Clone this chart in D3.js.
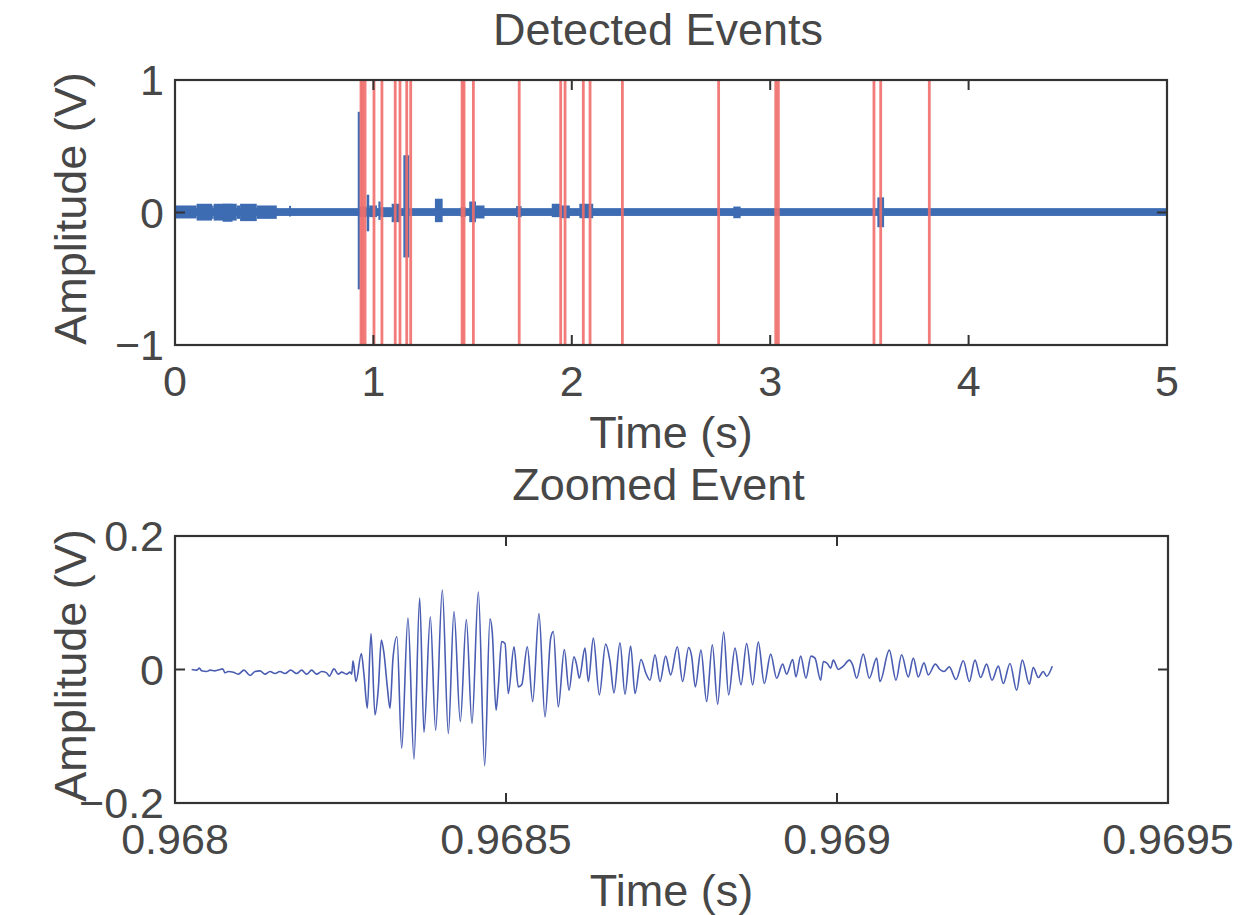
<!DOCTYPE html>
<html>
<head>
<meta charset="utf-8">
<script src="https://cdn.jsdelivr.net/npm/d3@7"></script>
<style>
  body { margin: 0; background: #fff; }
  text { font-family: "Liberation Sans", Arial, Helvetica, sans-serif; fill: #474747; }
</style>
</head>
<body>
<div id="container"></div>
<script>
let w = 1245;
let h = 915;

// ---- top plot data: whole recording, drawn as an amplitude envelope ----
let topXTicks = [0, 1, 2, 3, 4, 5];
let topYTicks = [-1, 0, 1];
let baseBand = [-0.026, 0.033];   // quiet background band (V)

// burst segments: start (s), end (s), max (V), min (V)
let burstStart = [0.000, 0.109, 0.187, 0.195, 0.240, 0.311, 0.328, 0.412, 0.575, 0.921, 0.932, 0.966, 0.979, 1.025, 1.037, 1.092, 1.151, 1.310, 1.440, 1.483, 1.517, 1.719, 1.899, 1.941, 2.038, 2.814, 3.540];
let burstEnd   = [0.109, 0.187, 0.195, 0.311, 0.290, 0.328, 0.412, 0.513, 0.585, 0.932, 0.966, 0.979, 1.018, 1.037, 1.092, 1.134, 1.181, 1.349, 1.465, 1.517, 1.560, 1.747, 1.941, 1.990, 2.108, 2.851, 3.574];
let burstMax   = [0.053, 0.066, 0.053, 0.066, 0.066, 0.053, 0.066, 0.053, 0.050, 0.760, 0.045, 0.134, 0.053, 0.083, 0.040, 0.066, 0.432, 0.104, 0.040, 0.083, 0.053, 0.048, 0.066, 0.053, 0.066, 0.045, 0.114];
let burstMin   = [-0.045, -0.061, -0.048, -0.061, -0.070, -0.048, -0.065, -0.048, -0.030, -0.580, -0.035, -0.142, -0.035, -0.056, -0.035, -0.073, -0.339, -0.073, -0.035, -0.073, -0.045, -0.035, -0.035, -0.043, -0.043, -0.043, -0.111];

// detected event times (s)
let eventTimes = [0.9375, 0.946, 0.958, 1.003, 1.043, 1.110, 1.134, 1.168, 1.188, 1.447, 1.457, 1.504, 1.735, 1.944, 1.966, 2.058, 2.092, 2.255, 2.740, 3.028, 3.041, 3.523, 3.557, 3.802];

// ---- bottom plot data: zoomed event ----
let zoomStart = 0.968;            // s
let zoomXTicks = [0.968, 0.9685, 0.969, 0.9695];
let zoomYTicks = [-0.2, 0, 0.2];
// sample times as microseconds after zoomStart, and amplitude (V)
let zoomOffsetUs = [25.2, 32.7, 36.8, 40.3, 47.8, 52.9, 60.4, 68.0, 72.0, 75.5, 80.6, 88.1, 95.7, 104.2, 113.3, 120.8, 128.4, 135.9, 143.5, 151.1, 158.6, 166.2, 174.7, 183.8, 191.3, 198.9, 206.4, 214.0, 221.5, 229.1, 233.1, 240.2, 246.7, 251.8, 259.3, 264.3, 266.9,
  268.9, 273.4, 281.5, 285.5, 290.5, 296.1, 302.1, 307.1, 311.7, 315.7, 320.7, 324.8, 329.3, 335.3, 342.4, 351.9, 361.0, 369.6, 376.1, 385.7, 393.7, 403.8, 412.9, 421.4, 431.0, 440.1, 448.6, 458.2, 467.8, 475.8, 479.4, 484.9, 488.4, 493.4, 498.5, 503.5, 512.1, 518.6, 523.7, 532.2, 540.3, 549.8, 558.9, 567.5, 571.5, 579.0, 588.1, 595.2, 602.7, 606.7, 610.7, 619.3, 624.4, 631.9, 641.0, 650.5, 657.1, 663.1, 672.2, 679.7, 688.3, 694.9, 703.9, 711.5, 717.5, 725.1, 732.6, 741.2,
  748.7, 758.8, 766.8, 775.9, 780.4, 786.0, 794.5, 803.1, 811.7, 819.7, 828.8, 836.3, 845.9, 855.0, 863.5, 872.6, 881.1, 890.2, 899.8, 908.8, 917.9, 923.9, 933.0, 938.0, 945.1, 953.1, 960.7, 966.7, 975.3, 979.3, 985.4, 990.4, 994.4, 1002.0, 1009.5, 1018.6, 1023.6, 1029.7, 1039.7, 1048.8, 1059.9, 1064.9, 1079.0, 1089.1, 1097.6, 1107.7, 1115.3, 1122.8, 1131.4, 1137.9, 1148.5, 1155.5, 1161.6, 1169.6, 1179.7, 1190.8, 1199.9, 1208.4, 1217.0, 1226.0, 1234.1, 1243.7, 1251.2, 1261.3, 1271.4, 1279.9, 1290.5, 1296.5, 1304.1, 1311.6, 1316.7, 1325.2];
let zoomAmp = [0.000, -0.001, 0.002, -0.002, -0.003, -0.001, -0.002, 0.000, 0.001, -0.005, -0.003, -0.004, -0.007, -0.001, -0.009, -0.003, -0.002, -0.007, -0.003, -0.006, -0.003, -0.006, -0.001, -0.006, -0.001, -0.007, -0.001, -0.007, -0.003, -0.005, -0.010, 0.001, -0.007, -0.004, -0.007, -0.004, -0.007,
  0.013, -0.018, 0.024, -0.008, -0.058, 0.054, -0.068, -0.029, 0.044, 0.024, -0.026, -0.058, 0.017, 0.049, -0.118, 0.077, -0.134, 0.107, -0.094, 0.079, -0.091, 0.119, -0.096, 0.087, -0.078, 0.075, -0.081, 0.116, -0.144, 0.076, 0.054, -0.061, -0.026, 0.042, 0.039, -0.036, 0.034, -0.026, -0.023, 0.034, -0.048, 0.084, -0.071, 0.047, 0.057, -0.056, 0.030, -0.031, 0.019, 0.007, -0.013, 0.032, -0.018, 0.047, -0.038, 0.038, 0.012, -0.035, 0.040, -0.037, 0.035, -0.036, 0.015, -0.006, -0.016, 0.022, -0.018, 0.020,
  -0.008, 0.034, -0.018, 0.033, 0.020, -0.026, 0.029, -0.048, 0.037, -0.052, 0.056, -0.038, 0.032, -0.023, 0.039, -0.023, 0.041, -0.021, 0.023, -0.013, 0.008, -0.007, 0.015, -0.011, 0.020, -0.013, 0.020, 0.017, -0.016, 0.012, 0.009, 0.002, 0.014, 0.000, 0.005, 0.014, 0.007, -0.013, 0.023, -0.013, 0.017, -0.018, 0.029, -0.016, 0.022, -0.011, 0.017, -0.011, 0.010, -0.008, 0.008, 0.000, -0.003, 0.004, -0.015, 0.013, -0.018, 0.014, -0.012, 0.008, -0.016, 0.005, -0.021, 0.009, -0.031, 0.014, -0.022, 0.003, -0.012, -0.003, -0.010, 0.005];

let zoomData = zoomOffsetUs.map(function(d, i){
  return {t: zoomStart + d * 1e-6, v: zoomAmp[i]};
});

let bursts = burstStart.map(function(d, i){
  return {t0: d, t1: burstEnd[i], hi: burstMax[i], lo: burstMin[i]};
});

let svg = d3.select("#container").append("svg")
    .attr("width", w)
    .attr("height", h)
    .style("background-color", "white");

let axisColor = "#333";
let tickFont = 43;
let labelFont = 45;

function drawFrame(g, x, y, xTicks, yTicks, title, titleY, x0, x1, y0, y1) {
  // inward ticks on all four sides
  let tickLen = 10;
  let ticks = g.append("g");
  xTicks.forEach(function(t){
    ticks.append("line").attr("x1", x(t)).attr("x2", x(t)).attr("y1", y1).attr("y2", y1 - tickLen);
    ticks.append("line").attr("x1", x(t)).attr("x2", x(t)).attr("y1", y0).attr("y2", y0 + tickLen);
  });
  yTicks.forEach(function(t){
    ticks.append("line").attr("x1", x0).attr("x2", x0 + tickLen).attr("y1", y(t)).attr("y2", y(t));
    ticks.append("line").attr("x1", x1).attr("x2", x1 - tickLen).attr("y1", y(t)).attr("y2", y(t));
  });
  ticks.selectAll("line").attr("stroke", axisColor).attr("stroke-width", 2);

  g.append("rect")
    .attr("x", x0).attr("y", y0)
    .attr("width", x1 - x0).attr("height", y1 - y0)
    .attr("fill", "none")
    .attr("stroke", axisColor)
    .attr("stroke-width", 2.2);

  g.selectAll(".xlab").data(xTicks).enter().append("text")
    .attr("class", "xlab")
    .attr("x", function(d){ return x(d); })
    .attr("y", y1 + 51)
    .attr("text-anchor", "middle")
    .attr("font-size", tickFont)
    .text(d3.format(""));

  g.selectAll(".ylab").data(yTicks).enter().append("text")
    .attr("class", "ylab")
    .attr("x", x0 - 11)
    .attr("y", function(d){ return y(d) + 15; })
    .attr("text-anchor", "end")
    .attr("font-size", tickFont)
    .text(d3.format(""));

  g.append("text")
    .attr("x", (x0 + x1) / 2)
    .attr("y", y1 + 103)
    .attr("text-anchor", "middle")
    .attr("font-size", labelFont)
    .text("Time (s)");

  g.append("text")
    .attr("transform", "translate(86," + ((y0 + y1) / 2 - 4) + ") rotate(-90)")
    .attr("text-anchor", "middle")
    .attr("font-size", labelFont)
    .text("Amplitude (V)");

  g.append("text")
    .attr("x", (x0 + x1) / 2 - 13)
    .attr("y", titleY)
    .attr("text-anchor", "middle")
    .attr("font-size", labelFont)
    .text(title);
}

// ---------- top: detected events ----------
let topX = d3.scaleLinear().domain([0, 5]).range([175, 1167]);
let topY = d3.scaleLinear().domain([-1, 1]).range([345, 80]);
let topG = svg.append("g");

topG.append("rect")
  .attr("x", topX(0)).attr("width", topX(5) - topX(0))
  .attr("y", topY(baseBand[1])).attr("height", topY(baseBand[0]) - topY(baseBand[1]))
  .attr("fill", "#3e6cb3");

topG.selectAll(".burst").data(bursts).enter().append("rect")
  .attr("class", "burst")
  .attr("x", function(d){ return topX(d.t0); })
  .attr("width", function(d){ return Math.max(topX(d.t1) - topX(d.t0), 1.5); })
  .attr("y", function(d){ return topY(d.hi); })
  .attr("height", function(d){ return topY(d.lo) - topY(d.hi); })
  .attr("fill", "#3e6cb3");

topG.selectAll(".event").data(eventTimes).enter().append("line")
  .attr("class", "event")
  .attr("x1", function(d){ return topX(d); })
  .attr("x2", function(d){ return topX(d); })
  .attr("y1", topY(1))
  .attr("y2", topY(-1))
  .attr("stroke", "#ef6e6a")
  .attr("stroke-opacity", 0.9)
  .attr("stroke-width", 2.8);

drawFrame(topG, topX, topY, topXTicks, topYTicks, "Detected Events", 45, 175, 1167, 80, 345);

// ---------- bottom: zoomed event ----------
let zX = d3.scaleLinear().domain([0.968, 0.9695]).range([175, 1168]);
let zY = d3.scaleLinear().domain([-0.2, 0.2]).range([803, 536]);
let botG = svg.append("g");

let line = d3.line()
  .x(function(d){ return zX(d.t); })
  .y(function(d){ return zY(d.v); })
  .curve(d3.curveMonotoneX);

botG.append("path")
  .datum(zoomData)
  .attr("d", line)
  .attr("fill", "none")
  .attr("stroke", "#4a5db2")
  .attr("stroke-width", 1.6);

drawFrame(botG, zX, zY, zoomXTicks, zoomYTicks, "Zoomed Event", 500, 175, 1168, 536, 803);
</script>
</body>
</html>
